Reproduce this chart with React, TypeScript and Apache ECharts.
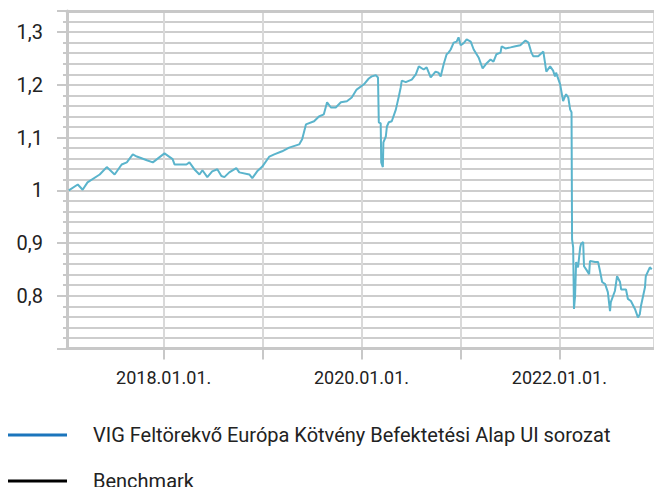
import React, { useEffect, useRef } from 'react';
import * as echarts from 'echarts';

const seriesName = 'VIG Feltörekvő Európa Kötvény Befektetési Alap UI sorozat';
const benchmarkName = 'Benchmark';

const dates = [
  '2017-01-16', '2017-02-18', '2017-03-08', '2017-03-26', '2017-05-10', '2017-06-05', '2017-07-04', '2017-07-30',
  '2017-08-18', '2017-09-09', '2017-09-24', '2017-10-31', '2017-11-22', '2018-01-04', '2018-02-03', '2018-02-10',
  '2018-03-26', '2018-04-06', '2018-04-24', '2018-05-13', '2018-05-24', '2018-06-11', '2018-06-29', '2018-07-18',
  '2018-08-02', '2018-08-13', '2018-08-31', '2018-09-26', '2018-10-07', '2018-11-13', '2018-11-24', '2018-12-12',
  '2018-12-31', '2019-01-26', '2019-02-13', '2019-03-14', '2019-04-09', '2019-05-16', '2019-05-27', '2019-06-10',
  '2019-07-10', '2019-07-28', '2019-08-15', '2019-08-27', '2019-09-10', '2019-09-28', '2019-10-17', '2019-11-08',
  '2019-11-26', '2019-12-14', '2020-01-10', '2020-01-28', '2020-02-08', '2020-02-23', '2020-03-02', '2020-03-05',
  '2020-03-12', '2020-03-14', '2020-03-20', '2020-03-22', '2020-03-31', '2020-04-04', '2020-04-11', '2020-04-22',
  '2020-05-07', '2020-05-18', '2020-05-25', '2020-05-29', '2020-06-13', '2020-06-17', '2020-07-05', '2020-07-20',
  '2020-07-31', '2020-08-18', '2020-08-29', '2020-09-13', '2020-10-01', '2020-10-12', '2020-10-20', '2020-10-31',
  '2020-11-11', '2020-11-18', '2020-11-26', '2020-12-07', '2020-12-18', '2020-12-25', '2021-01-02', '2021-01-13',
  '2021-01-24', '2021-02-08', '2021-02-19', '2021-03-09', '2021-03-24', '2021-04-08', '2021-04-22', '2021-05-03',
  '2021-05-14', '2021-05-29', '2021-06-02', '2021-06-16', '2021-07-05', '2021-07-23', '2021-08-10', '2021-08-29',
  '2021-09-09', '2021-09-20', '2021-09-27', '2021-10-15', '2021-11-03', '2021-11-14', '2021-11-28', '2021-12-09',
  '2021-12-16', '2021-12-20', '2022-01-04', '2022-01-15', '2022-01-22', '2022-01-26', '2022-02-03', '2022-02-10',
  '2022-02-15', '2022-02-17', '2022-02-21', '2022-02-24', '2022-02-28', '2022-03-04', '2022-03-11', '2022-03-19',
  '2022-03-22', '2022-03-30', '2022-04-02', '2022-04-10', '2022-04-21', '2022-04-24', '2022-05-13', '2022-05-24',
  '2022-05-31', '2022-06-08', '2022-06-19', '2022-06-29', '2022-07-07', '2022-07-10', '2022-07-25', '2022-08-02',
  '2022-08-13', '2022-08-17', '2022-09-04', '2022-09-11', '2022-09-22', '2022-10-07', '2022-10-18', '2022-10-25',
  '2022-10-29', '2022-11-13', '2022-11-16', '2022-12-01', '2022-12-08',
];

const values = [
  1.000, 1.011, 1.001, 1.015, 1.030, 1.044, 1.030, 1.049,
  1.053, 1.068, 1.064, 1.057, 1.053, 1.070, 1.059, 1.049,
  1.049, 1.053, 1.040, 1.030, 1.038, 1.025, 1.036, 1.040,
  1.027, 1.025, 1.034, 1.042, 1.034, 1.030, 1.023, 1.036,
  1.045, 1.064, 1.068, 1.074, 1.081, 1.087, 1.097, 1.125,
  1.131, 1.140, 1.144, 1.167, 1.157, 1.157, 1.167, 1.169,
  1.176, 1.191, 1.201, 1.212, 1.216, 1.218, 1.214, 1.129,
  1.127, 1.053, 1.044, 1.091, 1.102, 1.121, 1.129, 1.131,
  1.153, 1.178, 1.195, 1.208, 1.205, 1.206, 1.210, 1.220,
  1.235, 1.229, 1.233, 1.214, 1.225, 1.223, 1.216, 1.239,
  1.258, 1.261, 1.267, 1.280, 1.282, 1.290, 1.275, 1.279,
  1.286, 1.282, 1.267, 1.252, 1.231, 1.241, 1.248, 1.244,
  1.258, 1.261, 1.273, 1.269, 1.271, 1.273, 1.275, 1.284,
  1.280, 1.261, 1.254, 1.254, 1.263, 1.225, 1.235, 1.227,
  1.216, 1.223, 1.201, 1.169, 1.178, 1.182, 1.176, 1.153,
  1.148, 0.907, 0.892, 0.775, 0.799, 0.864, 0.854, 0.892,
  0.898, 0.902, 0.856, 0.850, 0.841, 0.866, 0.864, 0.864,
  0.847, 0.826, 0.822, 0.807, 0.771, 0.788, 0.809, 0.837,
  0.826, 0.812, 0.812, 0.794, 0.790, 0.775, 0.759, 0.765,
  0.780, 0.816, 0.837, 0.854, 0.850,
];

const labelYears = [2018, 2020, 2022];
const xMin = 2017.0227;
const xMax = 2022.957;
const yMin = 0.7;
const yMax = 1.34;

function yearFrac(d: string): number {
  const [y, m, dd] = d.split('-').map(Number);
  const start = Date.UTC(y, 0, 1);
  const end = Date.UTC(y + 1, 0, 1);
  return y + (Date.UTC(y, m - 1, dd) - start) / (end - start);
}

const FONT = 'Roboto';

export default function App() {
  const ref = useRef<HTMLDivElement>(null);
  useEffect(() => {
    if (!ref.current) return;
    const chart = echarts.init(ref.current, undefined, { renderer: 'svg' });
    const data = dates.map((d, i) => [yearFrac(d), values[i]]);
    const gridColor = '#cdcdcd';
    const legendBase = {
      orient: 'horizontal',
      left: 8,
      padding: 0,
      itemWidth: 59,
      itemHeight: 3,
      textStyle: { fontFamily: FONT, fontSize: 20, color: '#222', padding: [0, 0, 0, 21] },
      selectedMode: false,
    };
    chart.setOption({
      animation: false,
      backgroundColor: '#ffffff',
      grid: { left: 67, top: 11, right: -2, height: 337.5, containLabel: false },
      legend: [
        {
          ...legendBase,
          top: 425,
          data: [{ name: seriesName, icon: 'rect', itemStyle: { color: '#1b75bc' } }],
        },
        {
          ...legendBase,
          top: 471,
          data: [{ name: benchmarkName, icon: 'rect', itemStyle: { color: '#000000' } }],
        },
      ],
      xAxis: [
        {
          type: 'value',
          min: xMin,
          max: xMax,
          axisLine: { show: true, lineStyle: { color: '#c8c8c8', width: 3 } },
          axisTick: { show: true, length: 11, lineStyle: { color: '#c8c8c8', width: 2 } },
          splitLine: { show: true, lineStyle: { color: '#d9d9d9', width: 2 } },
          axisLabel: {
            showMinLabel: false,
            showMaxLabel: false,
            margin: 20,
            fontFamily: FONT,
            fontSize: 18,
            color: '#222',
            formatter: (v: number) => {
              const r = Math.round(v);
              return Math.abs(v - r) < 1e-6 && labelYears.includes(r) ? `${r}.01.01.` : '';
            },
          },
        },
        {
          type: 'value',
          position: 'top',
          min: xMin,
          max: xMax,
          axisLine: { show: true, lineStyle: { color: '#c8c8c8', width: 3 } },
          axisTick: { show: false },
          splitLine: { show: false },
          axisLabel: { show: false },
        },
      ],
      yAxis: {
        type: 'value',
        min: yMin,
        max: yMax,
        interval: 0.1,
        axisLine: { show: true, lineStyle: { color: '#c8c8c8', width: 3 } },
        axisTick: { show: true, length: 10, lineStyle: { color: '#c8c8c8', width: 2 } },
        minorTick: { show: true, splitNumber: 5, length: 4, lineStyle: { color: '#c8c8c8', width: 2 } },
        splitLine: { show: true, lineStyle: { color: gridColor, width: 2 } },
        minorSplitLine: { show: true, lineStyle: { color: gridColor, width: 2 } },
        axisLabel: {
          showMinLabel: false,
          showMaxLabel: false,
          margin: 24,
          fontFamily: FONT,
          fontSize: 20,
          color: '#222',
          formatter: (v: number) => {
            const r = Math.round(v * 10) / 10;
            return Number.isInteger(r) ? String(r) : r.toFixed(1).replace('.', ',');
          },
        },
      },
      series: [
        {
          name: seriesName,
          type: 'line',
          data,
          showSymbol: false,
          lineStyle: { color: '#5ab4cc', width: 2 },
          itemStyle: { color: '#5ab4cc' },
          z: 5,
        },
        {
          name: benchmarkName,
          type: 'line',
          data: [],
          showSymbol: false,
          lineStyle: { color: '#000000', width: 2 },
          itemStyle: { color: '#000000' },
        },
      ],
    });
    return () => chart.dispose();
  }, []);
  return (
    <div
      ref={ref}
      style={{ position: 'fixed', left: 0, top: 0, width: 654, height: 487, background: '#fff' }}
    />
  );
}
